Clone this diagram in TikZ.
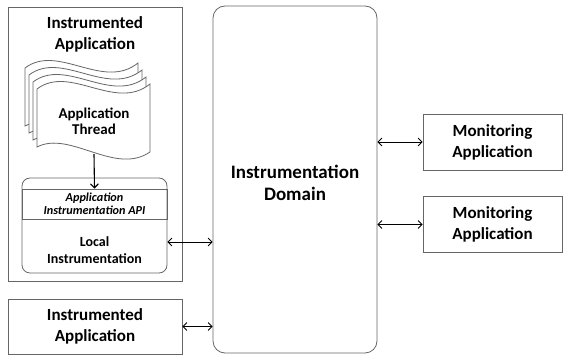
\documentclass[tikz,border=0pt]{standalone}
\usepackage{fontspec}
\setmainfont{Carlito}
\usepackage{tikz}
\usetikzlibrary{arrows,arrows.meta,calc}
\usetikzlibrary{positioning}
\newcommand{\TikZscale}{1}
\tikzset{every picture/.style={auto, node distance=5pt, >={Straight Barb[length=4pt,width=8pt]}}}
\tikzstyle{rahmen}	= [draw=black!60, line width=0.8pt, inner sep=0pt]
\tikzstyle{pfeil}	= [<->, line width=0.8pt]
\tikzstyle{to}		= [->, line width=1.1pt]
\tikzstyle{gross}	= [font=\fontsize{17}{21}\selectfont\bfseries, align=center]
\tikzstyle{riesig}	= [font=\fontsize{19}{22}\selectfont\bfseries, align=center]
\tikzstyle{mittel}	= [font=\fontsize{15}{16}\selectfont\bfseries, align=center]
\tikzstyle{lokal}	= [font=\fontsize{14}{17}\selectfont\bfseries, align=center]
\tikzstyle{klein}	= [font=\fontsize{12.2}{13.5}\selectfont\bfseries\itshape, align=center]

\begin{document}
\begin{tikzpicture}[x=\TikZscale pt, y=-\TikZscale pt]
	\useasboundingbox (0,0) rectangle (563,355);

	% Instrumentierte Anwendung
	\node[rahmen, minimum width=174pt, minimum height=274pt] (app) at (95,144) {};
	\node[gross] (apptitel) at (95,34) {Instrumented\\Application};

	% Threads
	\foreach \i in {3,2,1,0}
		\draw[rahmen, fill=white, shift={(-4*\i,-7*\i)}]
			(37,89) .. controls (70,64) and (115,112) .. (150,84) -- (150,152)
			.. controls (115,176) and (70,130) .. (37,147) -- cycle;
	\node[mittel, minimum width=113pt, minimum height=66pt, inner sep=0pt] (thread) at (94,121) {Application\\Thread};

	% Lokale Instrumentierung
	\node[rahmen, rounded corners=8pt, minimum width=145pt, minimum height=95pt] (localbox) at (94.5,225.5) {};
	\node[rahmen, klein, minimum width=145pt, minimum height=30pt] (api) at (94.5,204) {Application\\Instrumentation API};
	\node[lokal] (local) at (94.5,250) {Local\\Instrumentation};
	\draw[to] (thread.south) -- (api.north);

	% Zweite Anwendung
	\node[rahmen, gross, minimum width=174pt, minimum height=55pt] (app2) at (95,326.5) {Instrumented\\Application};

	% Domain
	\node[rahmen, rounded corners=12pt, minimum width=164pt, minimum height=347pt] (domain) at (295,179.5) {};
	\node[riesig] (domaintext) at (295,183) {Instrumentation\\Domain};

	% Monitoring
	\node[rahmen, gross, minimum width=139pt, minimum height=56pt] (mon1) at (492.5,142) {Monitoring\\Application};
	\node[rahmen, gross, minimum width=139pt, minimum height=56pt] (mon2) at (492.5,224.5) {Monitoring\\Application};

	% Verbindungen
	\coordinate (hlocal) at (0,242);
	\draw[pfeil] (localbox.east |- hlocal) -- (domain.west |- hlocal);
	\draw[pfeil] (app2.east) -- (domain.west |- app2.east);
	\draw[pfeil] (domain.east |- mon1.west) -- (mon1.west);
	\draw[pfeil] (domain.east |- mon2.west) -- (mon2.west);
\end{tikzpicture}
\end{document}
